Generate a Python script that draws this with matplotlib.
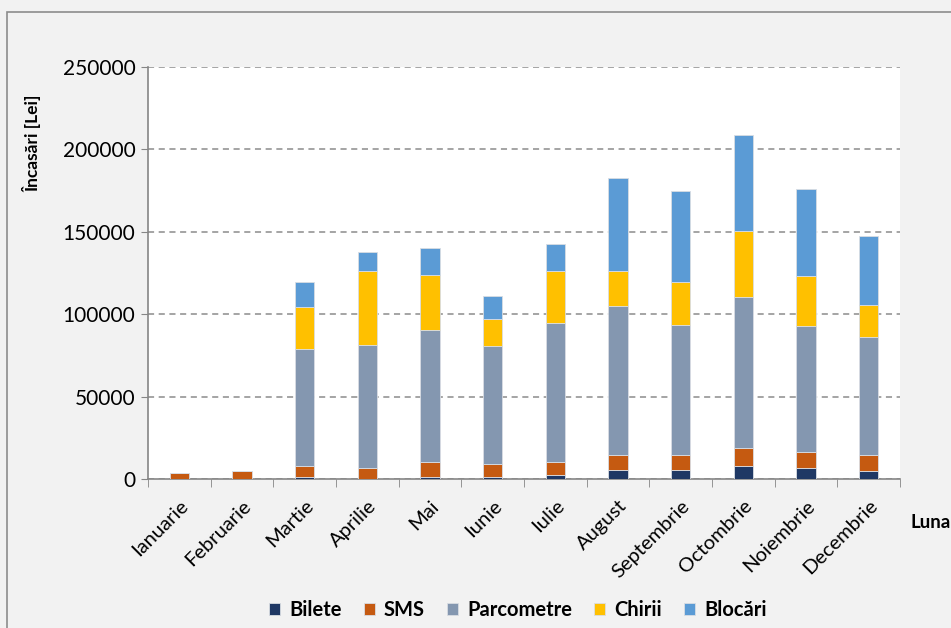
import matplotlib.pyplot as plt
import numpy as np
from matplotlib.patches import Rectangle

months = ["Ianuarie", "Februarie", "Martie", "Aprilie", "Mai", "Iunie", "Iulie",
          "August", "Septembrie", "Octombrie", "Noiembrie", "Decembrie"]
bilete = [0, 0, 1500, 300, 1500, 1300, 2600, 5700, 5700, 7900, 6800, 4900]
sms = [3800, 4900, 6500, 6500, 9000, 8000, 7900, 8900, 8900, 10900, 9600, 9700]
parcometre = [0, 0, 70900, 74500, 79900, 71400, 84200, 90400, 78800, 91600, 76400, 71600]
chirii = [0, 0, 25500, 44900, 33400, 16400, 31500, 21200, 26100, 40100, 30400, 19400]
blocari = [0, 0, 15100, 11500, 16400, 13900, 16400, 56500, 55300, 58200, 52800, 41900]

series = [("Bilete", bilete, "#1f3864"), ("SMS", sms, "#c55a11"),
          ("Parcometre", parcometre, "#8497b0"), ("Chirii", chirii, "#ffc000"),
          ("Blocări", blocari, "#5b9bd5")]

plt.rcParams['font.family'] = ['Lato', 'DejaVu Sans']

fig = plt.figure(figsize=(9.51, 6.28), dpi=100, facecolor="#f2f2f2")
ax = fig.add_axes([148/951, 1-479/628, (900-148)/951, (479-67)/628])
ax.set_facecolor("white")

# chart border
fig.patches.append(Rectangle((7/951, -0.1), 1.2, 1 - 12/628 + 0.1, transform=fig.transFigure,
                             fill=False, edgecolor="#8c8c8c", lw=1.2))

x = np.arange(len(months))
bottom = np.zeros(len(months))
for name, vals, col in series:
    ax.bar(x, vals, width=0.31, bottom=bottom, color=col, edgecolor="#d9dde3",
           linewidth=0.6, label=name, zorder=3)
    bottom += np.array(vals)

ax.set_xlim(-0.5, len(months) - 0.5)
ax.set_ylim(0, 250000)
ax.set_yticks(np.arange(0, 250001, 50000))
ax.yaxis.grid(True, linestyle=(0, (4, 3)), color="#8c8c8c", lw=1.1, zorder=0)
ax.tick_params(axis="y", labelsize=15, length=5, color="#868686", pad=4)

ax.set_xticks(x)
ax.set_xticklabels(months, rotation=45, ha="right", rotation_mode="anchor", fontsize=14.5)
ax.tick_params(axis="x", length=0, pad=13)
ax.set_xticks(np.arange(-0.5, len(months), 1), minor=True)
ax.tick_params(axis="x", which="minor", length=6, color="#868686")

for s in ["top", "right"]:
    ax.spines[s].set_visible(False)
for s in ["left", "bottom"]:
    ax.spines[s].set_color("#868686")
    ax.spines[s].set_linewidth(1.2)

fig.text(32/951, 1-143/628, "Încasări [Lei]", rotation=90, ha="center", va="center",
         fontsize=12.5, fontweight="bold")
fig.text(910/951, 1-522/628, "Luna", ha="left", va="center", fontsize=13.5, fontweight="bold")

fig.legend(loc="center", bbox_to_anchor=(518/951, 1-610/628), ncol=5, frameon=False,
           prop={"weight": "bold", "size": 14.5}, handlelength=0.55, handleheight=0.55,
           handletextpad=0.45, columnspacing=1.1)

fig.savefig("out.png", dpi=100, facecolor=fig.get_facecolor())
